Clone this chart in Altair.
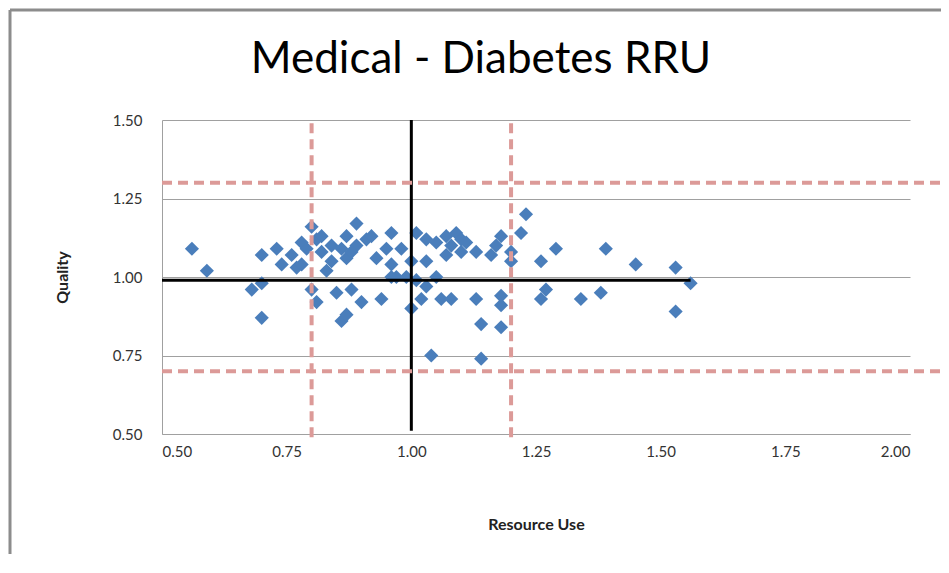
import altair as alt
import pandas as pd

TITLE = "Medical - Diabetes RRU"

# Scatter data (Resource Use, Quality)
resource_use = [0.56, 0.59, 0.68, 0.70, 0.70, 0.70, 0.73, 0.74, 0.76, 0.77,
                0.78, 0.79, 0.78, 0.80, 0.80, 0.81, 0.81, 0.82, 0.82, 0.83,
                0.84, 0.84, 0.85, 0.86, 0.87, 0.87, 0.86, 0.87, 0.88, 0.89,
                0.89, 0.91, 0.90, 0.92, 0.93, 0.94, 0.96, 0.96, 0.96, 0.97,
                0.98, 0.99, 1.00, 1.00, 1.01, 1.01, 1.02, 1.03, 1.03, 1.03,
                1.04, 1.05, 1.05, 1.06, 1.07, 1.07, 1.08, 1.08, 1.09, 1.10,
                1.10, 1.11, 1.13, 1.13, 1.14, 1.14, 1.16, 1.17, 1.18, 1.18,
                1.18, 1.18, 1.20, 1.20, 1.22, 1.23, 1.26, 1.26, 1.27, 1.29,
                1.34, 1.38, 1.39, 1.45, 1.53, 1.53, 1.56, 0.88, 0.95]
quality = [1.09, 1.02, 0.96, 0.98, 1.07, 0.87, 1.09, 1.04, 1.07, 1.03,
           1.11, 1.09, 1.04, 1.16, 0.96, 0.92, 1.12, 1.13, 1.08, 1.02,
           1.10, 1.05, 0.95, 1.09, 1.13, 1.06, 0.86, 0.88, 0.96, 1.17,
           1.10, 1.12, 0.92, 1.13, 1.06, 0.93, 1.00, 1.14, 1.04, 1.00,
           1.09, 1.00, 0.90, 1.05, 1.14, 0.99, 0.93, 1.12, 0.97, 1.05,
           0.75, 1.00, 1.11, 0.93, 1.07, 1.13, 0.93, 1.10, 1.14, 1.12,
           1.08, 1.11, 1.08, 0.93, 0.85, 0.74, 1.07, 1.10, 1.13, 0.94,
           0.91, 0.84, 1.05, 1.08, 1.14, 1.20, 0.93, 1.05, 0.96, 1.09,
           0.93, 0.95, 1.09, 1.04, 1.03, 0.89, 0.98, 1.08, 1.09]

# Reference lines
black_v_x = [1.00]
black_v_y = [0.51, 1.50]
black_h_y = [0.99]
black_h_x = [0.50, 1.56]
red_v_x = [0.80, 1.20]
red_v_y = [0.49, 1.50]
red_h_y = [1.30, 0.70]
red_h_x = [0.50, 2.07]

x_ticks = [0.50, 0.75, 1.00, 1.25, 1.50, 1.75, 2.00]
y_ticks = [0.50, 0.75, 1.00, 1.25, 1.50]

FONT = "Lato"
df = pd.DataFrame({"x": resource_use, "y": quality})

xs = alt.Scale(domain=[0.5, 2.0], nice=False, zero=False)
ys = alt.Scale(domain=[0.5, 1.5], nice=False, zero=False)

one = pd.DataFrame({"a": [0]})

# outer chart frame (top, left, bottom edges)
frame_top = alt.Chart(one).mark_rule(stroke="#8c8c8c", strokeWidth=3, clip=False).encode(
    x=alt.value(-152), x2=alt.value(790), y=alt.value(-110))
frame_left = alt.Chart(one).mark_rule(stroke="#8c8c8c", strokeWidth=3, clip=False).encode(
    x=alt.value(-152), y=alt.value(-110), y2=alt.value(450))
frame_bottom = alt.Chart(one).mark_rule(stroke="#d0d0d0", strokeWidth=2, clip=False).encode(
    x=alt.value(-152), x2=alt.value(790), y=alt.value(450))

title = alt.Chart(one).mark_text(
    text=TITLE, font=FONT, fontSize=44, fontWeight="normal", color="#000000", align="center",
    baseline="alphabetic", clip=False
).encode(x=alt.value(319), y=alt.value(-47))

points = alt.Chart(df).mark_point(
    shape="diamond", filled=True, size=200, color="#4a7ebb", opacity=1
).encode(
    x=alt.X("x:Q", scale=xs, title="Resource Use",
            axis=alt.Axis(values=x_ticks, format=".2f", grid=False)),
    y=alt.Y("y:Q", scale=ys, title="Quality",
            axis=alt.Axis(values=y_ticks, format=".2f", grid=True)),
)

bv = alt.Chart(pd.DataFrame({"x": black_v_x, "y": [black_v_y[0]], "y2": [black_v_y[1]]})).mark_rule(
    color="black", strokeWidth=3).encode(x="x:Q", y="y:Q", y2="y2:Q")
bh = alt.Chart(pd.DataFrame({"y": black_h_y, "x": [black_h_x[0]], "x2": [black_h_x[1]]})).mark_rule(
    color="black", strokeWidth=3).encode(y="y:Q", x="x:Q", x2="x2:Q")
rv = alt.Chart(pd.DataFrame({"x": red_v_x, "y": [red_v_y[0]] * 2, "y2": [red_v_y[1]] * 2})).mark_rule(
    color="#dc9a98", strokeWidth=4, strokeDash=[10, 6], clip=False).encode(x="x:Q", y="y:Q", y2="y2:Q")
rh = alt.Chart(pd.DataFrame({"y": red_h_y, "x": [red_h_x[0]] * 2, "x2": [red_h_x[1]] * 2})).mark_rule(
    color="#dc9a98", strokeWidth=4, strokeDash=[10, 6], clip=False).encode(y="y:Q", x="x:Q", x2="x2:Q")

chart = alt.layer(frame_top, frame_left, frame_bottom, title, points, bv, bh, rv, rh).properties(
    width=748, height=314,
    autosize=alt.AutoSizeParams(type="none"),
    padding={"left": 154, "top": 112, "right": 31, "bottom": 120},
    background="white",
).configure_view(stroke=None).configure_axis(
    labelFont=FONT, labelFontSize=15, labelColor="#333333",
    titleFont=FONT, titleFontSize=16, titleFontWeight="bold", titleColor="#222222",
    domainColor="#a0a0a0", gridColor="#a0a0a0", gridWidth=1.2, ticks=False,
).configure_axisX(labelPadding=10, titlePadding=57, domain=True
).configure_axisY(labelPadding=20, titlePadding=42, domain=True)

chart.save("out.html", embed_options={"renderer": "svg", "actions": False})
